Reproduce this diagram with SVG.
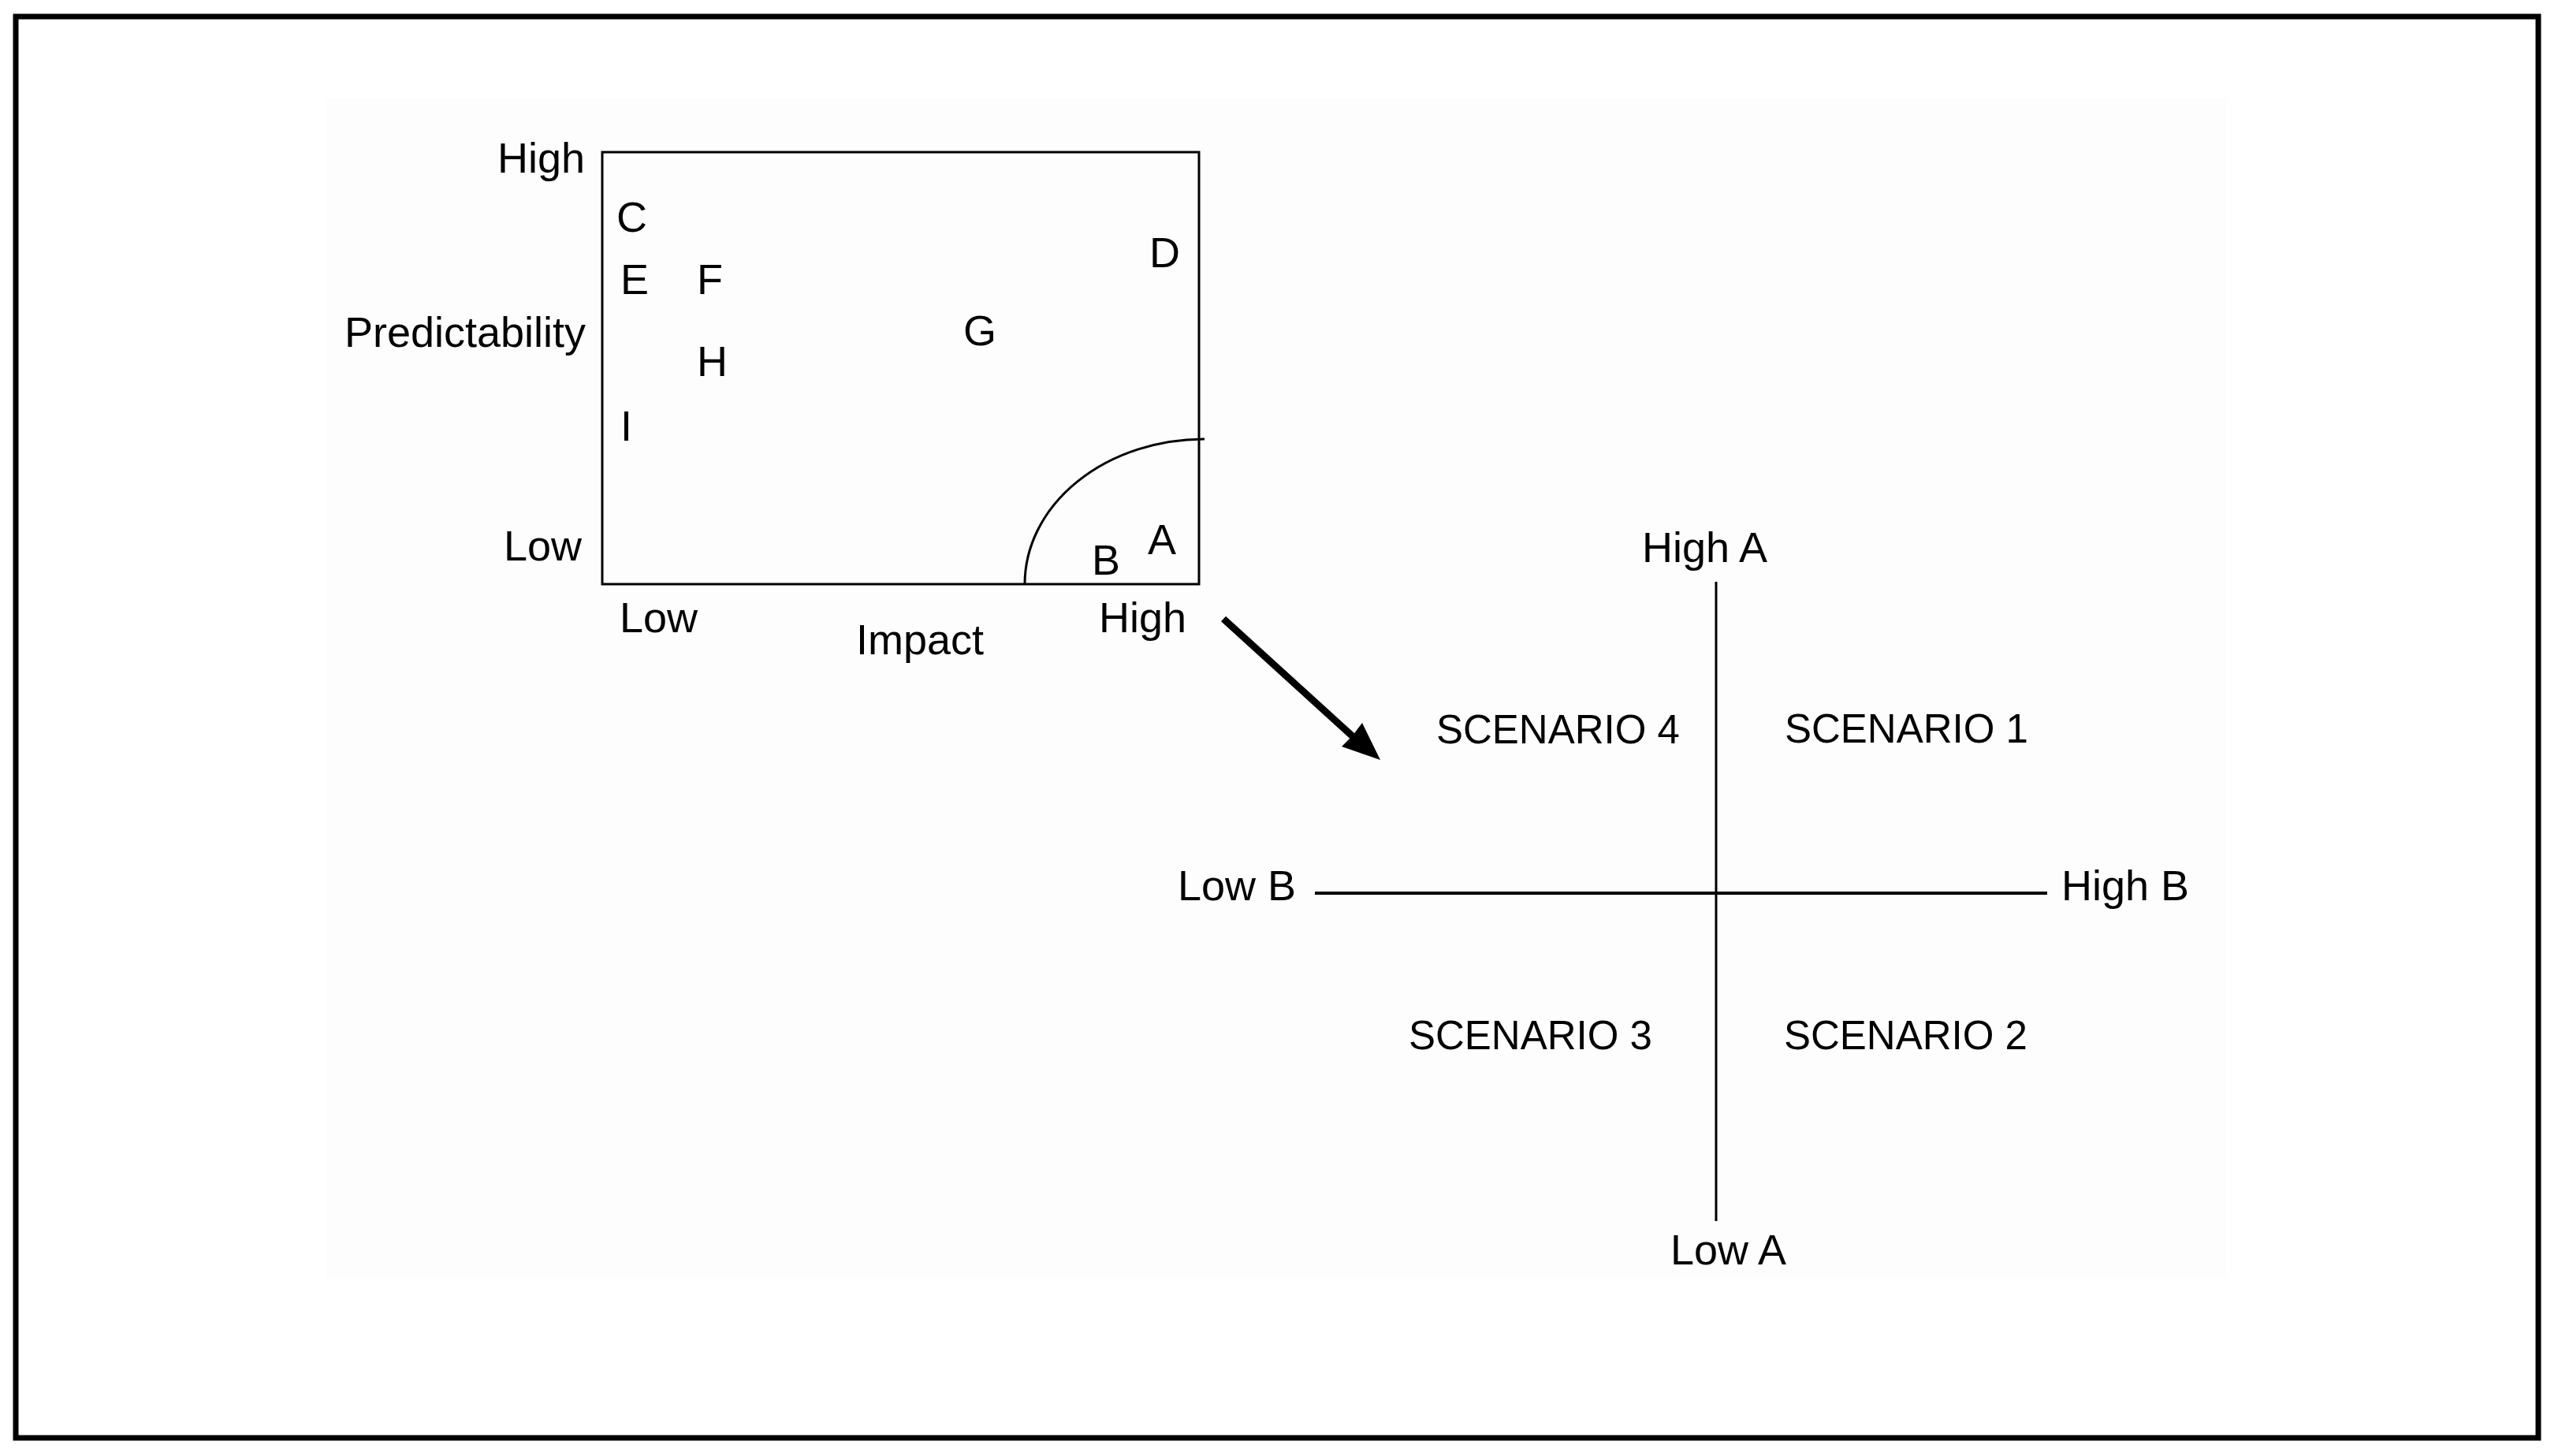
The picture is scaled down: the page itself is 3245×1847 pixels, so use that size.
<svg xmlns="http://www.w3.org/2000/svg" width="3245" height="1847" viewBox="0 0 3245 1847">
<style>
text{font-family:"Liberation Sans",Arial,sans-serif;fill:#000}
.lbl{font-size:54px}
.sc{font-size:51px}
.ln{fill:none;stroke:#000;stroke-width:3}
</style>
<rect x="0" y="0" width="3245" height="1847" fill="#fff"/>
<rect x="414" y="124" width="2411" height="1498" fill="#fdfdfd"/>
<rect id="frame" x="20" y="21" width="3200" height="1803" fill="none" stroke="#000" stroke-width="7"/>
<g id="matrix">
<rect class="ln" x="764" y="193" width="757" height="548"/>
<path id="arc" class="ln" d="M1300,741 A228,184 0 0 1 1528,557"/>
<text class="lbl" x="742" y="219" text-anchor="end">High</text>
<text class="lbl" x="743" y="440" text-anchor="end">Predictability</text>
<text class="lbl" x="738" y="711" text-anchor="end">Low</text>
<text class="lbl" x="786" y="802">Low</text>
<text class="lbl" x="1086" y="830">Impact</text>
<text class="lbl" x="1394" y="802">High</text>
</g>
<g id="items">
<text id="item-C" class="lbl" x="782" y="294">C</text>
<text id="item-E" class="lbl" x="787" y="373">E</text>
<text id="item-F" class="lbl" x="884" y="373">F</text>
<text id="item-H" class="lbl" x="884" y="477">H</text>
<text id="item-I" class="lbl" x="787" y="559">I</text>
<text id="item-G" class="lbl" x="1222" y="438">G</text>
<text id="item-D" class="lbl" x="1458" y="339">D</text>
<text id="item-B" class="lbl" x="1385" y="729">B</text>
<text id="item-A" class="lbl" x="1456" y="703">A</text>
</g>
<g id="connectors">
<line x1="1552" y1="785" x2="1718" y2="936" stroke="#000" stroke-width="9" stroke-linecap="butt"/>
<polygon points="1751,964 1702,947 1716,933 1728,917" fill="#000"/>
</g>
<g id="scenario-axes">
<line class="ln" x1="2177" y1="738" x2="2177" y2="1549"/>
<line x1="1668" y1="1133" x2="2597" y2="1133" stroke="#000" stroke-width="4"/>
<text class="lbl" x="2083" y="713">High A</text>
<text class="lbl" x="2119" y="1604">Low A</text>
<text class="lbl" x="1494" y="1142">Low B</text>
<text class="lbl" x="2615" y="1142">High B</text>
</g>
<g id="scenarios">
<text id="scenario-4" class="sc" x="1822" y="943">SCENARIO 4</text>
<text id="scenario-1" class="sc" x="2264" y="942">SCENARIO 1</text>
<text id="scenario-3" class="sc" x="1787" y="1331">SCENARIO 3</text>
<text id="scenario-2" class="sc" x="2263" y="1331">SCENARIO 2</text>
</g>
</svg>
